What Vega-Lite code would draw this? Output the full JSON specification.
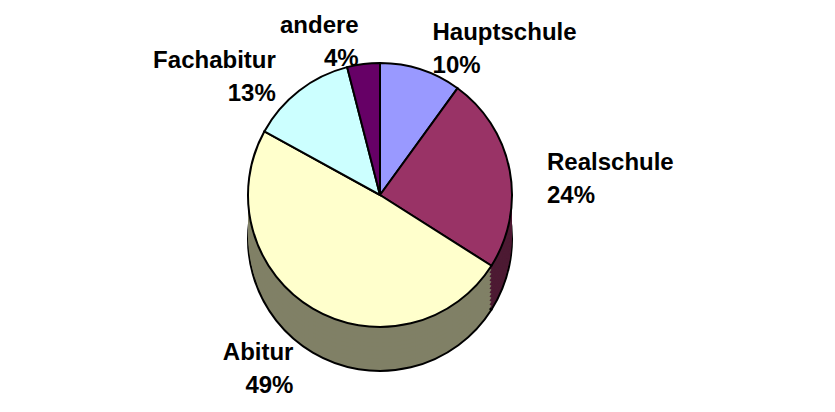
{
  "$schema": "https://vega.github.io/schema/vega-lite/v6.json",
  "autosize": {"type": "none"},
  "width": 760,
  "height": 390,
  "padding": {"left": 0, "top": 0, "right": 75, "bottom": 22},
  "background": "white",
  "config": {"view": {"stroke": null}},
  "data": {
    "values": [
      {"n": 1, "category": "Hauptschule", "value": 10},
      {"n": 2, "category": "Realschule", "value": 24},
      {"n": 3, "category": "Abitur", "value": 49},
      {"n": 4, "category": "Fachabitur", "value": 13},
      {"n": 5, "category": "andere", "value": 4}
    ]
  },
  "encoding": {
    "theta": {"field": "value", "type": "quantitative", "stack": true},
    "order": {"field": "n", "type": "quantitative"}
  },
  "resolve": {"scale": {"color": "independent"}},
  "layer": [
    {"mark": {"type": "arc", "radius": 132, "yOffset": 44, "stroke": "black", "strokeWidth": 2},
     "encoding": {"color": {"field": "category", "type": "nominal", "legend": null,
       "scale": {"domain": ["Hauptschule", "Realschule", "Abitur", "Fachabitur", "andere"], "range": ["#4D4D80", "#4D1A33", "#808066", "#668080", "#330033"]}}}},
    {"mark": {"type": "arc", "radius": 132, "yOffset": 40},
     "encoding": {"color": {"field": "category", "type": "nominal", "legend": null,
       "scale": {"domain": ["Hauptschule", "Realschule", "Abitur", "Fachabitur", "andere"], "range": ["#4D4D80", "#4D1A33", "#808066", "#668080", "#330033"]}}}},
    {"mark": {"type": "arc", "radius": 132, "yOffset": 36},
     "encoding": {"color": {"field": "category", "type": "nominal", "legend": null,
       "scale": {"domain": ["Hauptschule", "Realschule", "Abitur", "Fachabitur", "andere"], "range": ["#4D4D80", "#4D1A33", "#808066", "#668080", "#330033"]}}}},
    {"mark": {"type": "arc", "radius": 132, "yOffset": 32},
     "encoding": {"color": {"field": "category", "type": "nominal", "legend": null,
       "scale": {"domain": ["Hauptschule", "Realschule", "Abitur", "Fachabitur", "andere"], "range": ["#4D4D80", "#4D1A33", "#808066", "#668080", "#330033"]}}}},
    {"mark": {"type": "arc", "radius": 132, "yOffset": 28},
     "encoding": {"color": {"field": "category", "type": "nominal", "legend": null,
       "scale": {"domain": ["Hauptschule", "Realschule", "Abitur", "Fachabitur", "andere"], "range": ["#4D4D80", "#4D1A33", "#808066", "#668080", "#330033"]}}}},
    {"mark": {"type": "arc", "radius": 132, "yOffset": 24},
     "encoding": {"color": {"field": "category", "type": "nominal", "legend": null,
       "scale": {"domain": ["Hauptschule", "Realschule", "Abitur", "Fachabitur", "andere"], "range": ["#4D4D80", "#4D1A33", "#808066", "#668080", "#330033"]}}}},
    {"mark": {"type": "arc", "radius": 132, "yOffset": 20},
     "encoding": {"color": {"field": "category", "type": "nominal", "legend": null,
       "scale": {"domain": ["Hauptschule", "Realschule", "Abitur", "Fachabitur", "andere"], "range": ["#4D4D80", "#4D1A33", "#808066", "#668080", "#330033"]}}}},
    {"mark": {"type": "arc", "radius": 132, "yOffset": 16},
     "encoding": {"color": {"field": "category", "type": "nominal", "legend": null,
       "scale": {"domain": ["Hauptschule", "Realschule", "Abitur", "Fachabitur", "andere"], "range": ["#4D4D80", "#4D1A33", "#808066", "#668080", "#330033"]}}}},
    {"mark": {"type": "arc", "radius": 132, "yOffset": 12},
     "encoding": {"color": {"field": "category", "type": "nominal", "legend": null,
       "scale": {"domain": ["Hauptschule", "Realschule", "Abitur", "Fachabitur", "andere"], "range": ["#4D4D80", "#4D1A33", "#808066", "#668080", "#330033"]}}}},
    {"mark": {"type": "arc", "radius": 132, "yOffset": 8},
     "encoding": {"color": {"field": "category", "type": "nominal", "legend": null,
       "scale": {"domain": ["Hauptschule", "Realschule", "Abitur", "Fachabitur", "andere"], "range": ["#4D4D80", "#4D1A33", "#808066", "#668080", "#330033"]}}}},
    {"mark": {"type": "arc", "radius": 132, "yOffset": 4},
     "encoding": {"color": {"field": "category", "type": "nominal", "legend": null,
       "scale": {"domain": ["Hauptschule", "Realschule", "Abitur", "Fachabitur", "andere"], "range": ["#4D4D80", "#4D1A33", "#808066", "#668080", "#330033"]}}}},
    {"mark": {"type": "arc", "radius": 132, "stroke": "black", "strokeWidth": 2},
     "encoding": {"color": {"field": "category", "type": "nominal", "legend": null,
       "scale": {"domain": ["Hauptschule", "Realschule", "Abitur", "Fachabitur", "andere"], "range": ["#9999FF", "#993366", "#FFFFCC", "#CCFFFF", "#660066"]}}}},
    {
      "transform": [{"calculate": "[datum.category, datum.value + '%']", "as": "label"}],
      "mark": {
        "type": "text",
        "radius": 170,
        "font": "Liberation Sans",
        "fontWeight": "bold",
        "fontSize": 24,
        "lineHeight": 33,
        "color": "black",
        "align": {"expr": "datum.value_start + datum.value_end < 100 ? 'left' : 'right'"},
        "baseline": {"expr": "(datum.value_start + datum.value_end > 50 && datum.value_start + datum.value_end < 150) ? 'top' : 'middle'"}
      },
      "encoding": {
        "text": {"field": "label", "type": "nominal"}
      }
    }
  ]
}
